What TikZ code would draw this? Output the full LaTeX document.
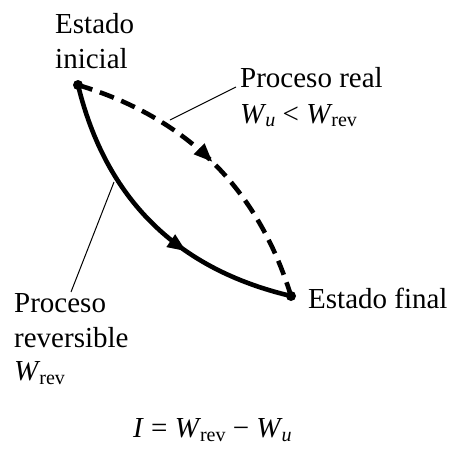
\documentclass[tikz,border=0pt]{standalone}
\usepackage{fontspec}
\setmainfont{Liberation Serif}
\usetikzlibrary{arrows.meta,decorations.markings}
\newcommand\Wsb[1]{\textit{W}\kern-0.04em\raisebox{-0.3ex}{\fontsize{20}{20}\selectfont #1}}
\begin{document}
\begin{tikzpicture}[x=1pt,y=-1pt,
  lbl/.style={anchor=base west,inner sep=0pt,font=\fontsize{29}{35}\selectfont},
  proc/.style={line width=4.6pt},
  leader/.style={line width=1pt},
  dot/.style={circle,fill=black,inner sep=0pt,minimum size=10pt},
  midarrow/.style={postaction={decorate},decoration={markings,
     mark=at position #1 with {\arrow{Triangle[length=19pt,width=14pt]}}}}]
\useasboundingbox (0,0) rectangle (452,448);
\node[dot] (ini) at (78,85) {};
\node[dot] (fin) at (291,296) {};
% paths
\draw[proc,dash pattern=on 15pt off 8pt,midarrow=0.5]
  (ini.center) .. controls (186.7,117.7) and (257.7,188) .. (fin.center);
\draw[proc,midarrow=0.64]
  (ini.center) .. controls (105.7,198.7) and (176.7,269) .. (fin.center);
% labels
\node[lbl] (e1) at (55,33) {Estado};
\node[lbl] (e2) at (55,68) {inicial};
\node[lbl] (r1) at (240,87) {Proceso real};
\node[lbl] (r2) at (240,123) {\Wsb{\itshape u} < \Wsb{rev}};
\node[lbl] (ef) at (308,308) {Estado final};
\node[lbl] (v1) at (14,312) {Proceso};
\node[lbl] (v2) at (14,347) {reversible};
\node[lbl] (v3) at (14,380) {\Wsb{rev}};
\node[lbl] (eq) at (133,437) {\textit{I} = \Wsb{rev} − \Wsb{\itshape u}};
% leaders
\coordinate (lr) at (170,120);
\coordinate (lv) at (114,182);
\draw[leader] (lr) -- (236,87);
\draw[leader] (lv) -- (71,292);
\end{tikzpicture}
\end{document}
